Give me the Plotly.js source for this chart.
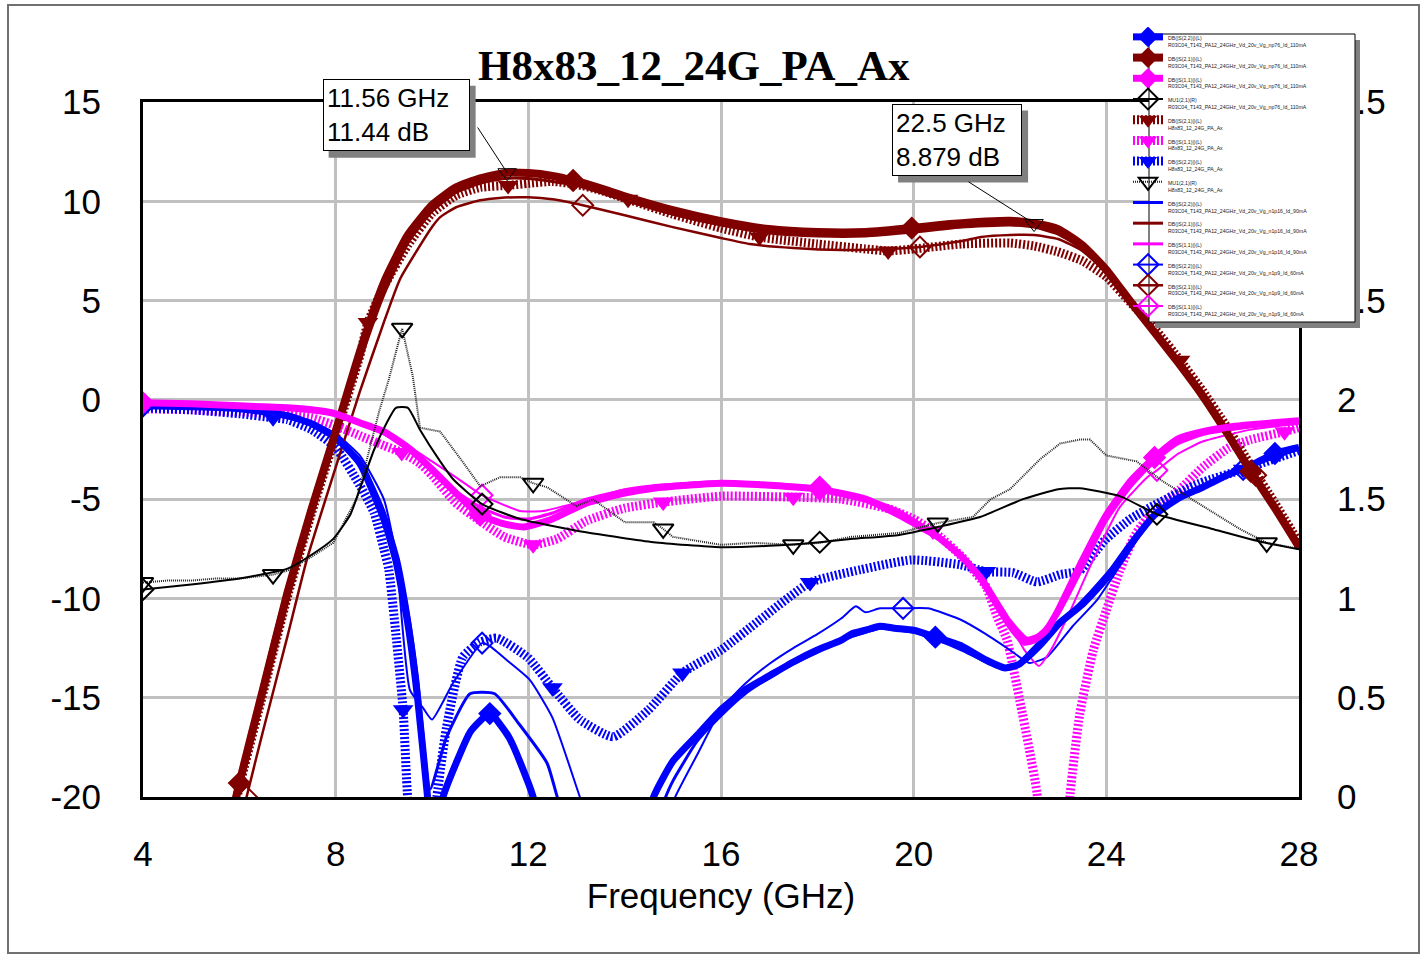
<!DOCTYPE html>
<html><head><meta charset="utf-8">
<script src="https://cdn.plot.ly/plotly-3.0.1.min.js"></script>
<style>html,body{margin:0;padding:0;background:#fff;}#chart{width:1421px;height:956px;}</style>
</head><body><div id="chart"></div>
<script>
// ---------- data (frequency in GHz, S-params in dB, MU1 unitless) ----------
// S22, np76 110mA
const f_s22_np76 = [4.0,5.0,6.0,7.0,7.5,8.0,8.5,9.0,9.25,9.5,9.7,9.9,10.05,10.23,10.5,10.8,11.2,11.6,12.0,12.1,12.4,13.3,14.3,14.6,15.0,15.5,16.0,16.5,17.0,17.5,18.0,18.5,18.7,19.0,19.3,19.6,20.0,20.45,21.0,21.5,21.9,22.2,22.5,23.0,23.5,24.0,24.5,25.0,25.5,26.0,26.5,27.0,27.5,28.0];
const s22_np76   = [-0.3,-0.35,-0.45,-0.8,-1.2,-1.9,-3.2,-6.0,-8.1,-11.3,-15.0,-19.8,-23.5,-20.0,-18.3,-16.7,-15.8,-17.0,-19.3,-20.0,-23.0,-28.0,-23.0,-20.0,-18.2,-16.9,-15.6,-14.6,-13.9,-13.2,-12.6,-12.1,-11.8,-11.6,-11.4,-11.5,-11.6,-11.95,-12.4,-13.1,-13.5,-13.3,-12.6,-11.3,-10.3,-9.0,-7.3,-5.8,-4.95,-4.4,-3.8,-3.3,-2.7,-2.4];
// S21, np76 110mA
const f_s21_np76 = [5.7,6.0,6.5,7.0,7.5,8.0,8.5,9.0,9.5,10.0,10.5,11.0,11.56,12.0,12.5,12.93,13.5,14.0,15.0,16.0,17.0,18.0,19.0,19.96,20.5,21.0,21.5,22.0,22.5,23.0,23.5,24.0,24.5,25.0,25.5,26.0,26.5,27.0,27.5,28.0];
const s21_np76   = [-22.5,-19.3,-14.5,-9.7,-5.5,-1.6,2.4,5.9,8.3,9.8,10.7,11.15,11.44,11.42,11.28,11.05,10.65,10.25,9.55,9.0,8.6,8.45,8.45,8.65,8.8,8.9,8.98,9.02,8.88,8.6,7.8,6.55,4.95,3.4,1.85,0.2,-1.65,-3.6,-5.45,-7.4];
// S11, np76 110mA
const f_s11_np76 = [4.0,5.0,6.0,7.0,7.5,8.0,8.5,9.0,9.5,10.0,10.5,11.0,11.5,11.9,12.5,13.2,14.0,14.6,15.3,16.0,17.0,18.05,19.0,19.7,20.0,20.5,21.0,21.4,21.8,22.07,22.3,22.5,22.75,23.0,23.5,24.0,24.5,25.0,25.5,26.0,26.6,27.0,28.0];
const s11_np76   = [-0.15,-0.2,-0.3,-0.4,-0.5,-0.7,-1.15,-1.6,-2.4,-3.5,-4.7,-5.8,-6.25,-6.4,-6.0,-5.2,-4.7,-4.45,-4.3,-4.2,-4.3,-4.5,-5.0,-5.8,-6.2,-6.9,-7.9,-9.0,-10.6,-11.6,-12.2,-12.1,-11.6,-10.6,-8.1,-5.8,-4.1,-2.9,-1.95,-1.6,-1.35,-1.25,-1.05];
// MU1, np76 110mA (right axis)
const f_mu_np76 = [4.0,5.0,6.0,7.0,7.5,7.95,8.3,8.5,8.8,9.05,9.25,9.5,9.75,10.17,10.44,11.04,11.83,13.2,14.6,15.98,17.0,18.05,18.74,19.7,20.5,21.38,22.27,23.0,23.45,24.28,25.05,26.2,27.25,28.0];
const mu_np76   = [1.045,1.07,1.10,1.15,1.22,1.30,1.42,1.55,1.75,1.88,1.96,1.96,1.85,1.69,1.60,1.475,1.40,1.333,1.283,1.258,1.265,1.283,1.30,1.32,1.36,1.41,1.50,1.55,1.555,1.515,1.424,1.35,1.283,1.247];
// S21, H8x83
const f_s21_h8 = [5.7,6.0,6.5,7.0,7.5,8.0,8.5,8.67,9.0,9.5,10.0,10.5,11.0,11.58,12.0,12.5,13.0,13.5,14.07,15.0,16.0,16.8,18.0,19.0,19.47,20.0,21.0,22.0,22.5,23.0,23.5,24.0,24.5,25.0,25.53,26.0,26.5,27.0,27.5,28.0];
const s21_h8   = [-22.8,-19.5,-14.7,-9.9,-5.7,-1.8,2.2,3.9,5.7,7.8,9.4,10.3,10.7,10.8,10.9,11.0,10.85,10.55,10.1,9.35,8.65,8.2,7.85,7.6,7.5,7.6,7.85,7.9,7.75,7.45,7.0,6.2,4.9,3.6,2.0,0.45,-1.35,-3.3,-5.2,-7.2];
// S11, H8x83
const f_s11_h8 = [4.0,5.0,6.0,6.7,7.5,8.0,8.5,9.0,9.37,9.75,10.0,10.5,11.0,11.5,12.1,12.6,13.2,14.0,14.8,16.0,17.5,18.5,19.5,20.0,20.4,21.0,21.5,21.73,21.94,22.2,22.4,22.56,22.9,23.25,23.45,23.73,24.0,24.28,24.6,25.0,25.53,26.0,26.55,27.0,27.7,28.0];
const s11_h8   = [-0.45,-0.5,-0.6,-0.7,-0.9,-1.3,-1.8,-2.3,-2.65,-3.2,-3.8,-5.2,-6.1,-6.9,-7.3,-7.0,-6.1,-5.45,-5.15,-4.85,-4.9,-5.0,-5.5,-6.0,-6.6,-7.9,-9.4,-10.9,-12.1,-15.1,-17.6,-19.8,-32.0,-19.8,-15.8,-12.6,-10.6,-8.6,-6.8,-5.5,-4.5,-3.4,-2.4,-2.0,-1.6,-1.4];
// S22, H8x83
const f_s22_h8 = [4.0,5.0,6.0,6.7,7.0,7.5,8.0,8.5,8.8,9.0,9.1,9.25,9.4,9.5,9.8,10.1,10.3,10.64,11.0,11.35,12.0,12.5,13.07,13.76,14.5,15.2,16.0,16.8,17.85,18.9,19.96,20.96,21.5,22.06,22.56,23.04,23.45,23.97,24.5,25.0,25.94,26.84,28.0];
const s22_h8   = [-0.4,-0.5,-0.7,-0.9,-1.0,-1.5,-2.4,-4.3,-5.7,-7.5,-8.5,-11.8,-15.6,-20.2,-26.0,-20.0,-16.5,-12.95,-12.2,-12.0,-13.0,-14.5,-16.1,-16.97,-15.6,-13.75,-12.6,-11.1,-9.2,-8.55,-8.06,-8.3,-8.65,-8.7,-9.17,-8.8,-8.6,-7.06,-6.0,-5.3,-4.2,-3.5,-2.55];
// MU1, H8x83 (right axis)
const f_mu_h8 = [4.0,4.5,5.0,5.5,6.0,6.7,7.0,7.5,7.95,8.45,8.9,9.1,9.38,9.6,9.75,10.17,10.6,11.0,11.41,11.83,12.1,12.39,13.0,13.34,14.0,14.6,14.8,15.0,16.0,16.66,17.5,18.05,18.7,19.7,20.5,21.23,21.6,22.0,22.62,23.04,23.45,23.66,24.0,24.63,25.17,26.09,26.77,27.33,28.0];
const mu_h8   = [1.08,1.09,1.09,1.10,1.10,1.12,1.14,1.21,1.28,1.51,1.94,2.10,2.36,2.12,1.86,1.84,1.70,1.565,1.61,1.61,1.58,1.56,1.465,1.50,1.384,1.384,1.35,1.31,1.27,1.28,1.27,1.28,1.31,1.33,1.38,1.41,1.50,1.55,1.70,1.78,1.80,1.80,1.72,1.69,1.59,1.45,1.35,1.28,1.25];
// S22, n1p16 90mA
const f_s22_n1p16 = [4.0,5.0,6.0,7.0,7.5,8.0,8.5,9.0,9.3,9.5,9.7,9.96,10.3,10.79,11.3,11.8,12.39,12.6,13.0,14.4,14.85,15.0,15.5,16.0,16.5,17.0,17.5,18.0,18.5,19.0,19.3,20.0,20.5,21.0,21.5,21.9,22.3,22.7,23.2,23.7,24.2,24.7,25.2,26.0,27.0,28.0];
const s22_n1p16   = [-0.3,-0.35,-0.45,-0.8,-1.2,-1.85,-3.0,-5.6,-8.0,-10.6,-14.0,-19.6,-17.0,-14.8,-14.8,-16.3,-18.3,-20.0,-23.0,-23.0,-20.0,-19.2,-17.2,-15.9,-14.8,-14.0,-13.3,-12.7,-12.1,-11.7,-11.5,-11.7,-12.1,-12.6,-13.2,-13.5,-13.2,-12.3,-10.9,-9.6,-8.2,-6.6,-5.4,-4.4,-3.3,-2.45];
// S21, n1p16 90mA
const f_s21_n1p16 = [5.7,6.0,6.5,7.0,7.5,8.0,8.5,9.0,9.5,10.0,10.5,11.0,11.5,12.0,12.5,13.0,14.0,15.0,16.0,17.0,18.0,19.0,20.0,21.0,22.0,22.5,23.0,23.5,24.0,24.5,25.0,25.5,26.0,26.5,27.0,27.5,28.0];
const s21_n1p16   = [-22.7,-19.4,-14.8,-10.1,-5.9,-2.0,1.9,5.3,7.9,9.5,10.45,10.9,11.15,11.15,11.0,10.8,10.05,9.35,8.8,8.4,8.25,8.25,8.45,8.7,8.8,8.7,8.35,7.6,6.4,4.85,3.3,1.75,0.1,-1.75,-3.7,-5.5,-7.45];
// S11, n1p16 90mA
const f_s11_n1p16 = [4.0,6.0,7.0,8.0,8.5,9.0,9.5,10.0,10.5,11.0,11.5,12.0,12.5,13.2,14.0,15.0,16.0,17.0,18.0,19.0,19.7,20.5,21.0,21.5,22.0,22.35,22.6,23.0,23.5,24.0,24.5,25.0,25.5,26.0,27.0,28.0];
const s11_n1p16   = [-0.2,-0.35,-0.45,-0.75,-1.2,-1.7,-2.5,-3.5,-4.6,-5.4,-5.9,-6.0,-5.7,-5.0,-4.55,-4.3,-4.2,-4.3,-4.5,-4.95,-5.7,-6.8,-7.8,-9.2,-11.1,-12.0,-11.8,-10.8,-8.5,-6.1,-4.4,-3.1,-2.2,-1.75,-1.35,-1.1];
// S22, n1p9 60mA
const f_s22_n1p9 = [4.0,5.0,6.0,7.0,7.5,8.0,8.5,9.0,9.25,9.54,9.81,10.0,10.44,11.04,11.2,11.6,12.03,12.5,13.07,13.5,14.6,15.05,15.5,16.0,16.5,17.0,17.5,18.0,18.5,18.8,19.0,19.3,19.78,20.3,21.0,21.5,22.0,22.4,22.77,23.3,23.8,24.3,25.05,26.0,26.84,28.0];
const s22_n1p9   = [-0.3,-0.35,-0.45,-0.75,-1.1,-1.7,-2.8,-5.0,-7.8,-14.6,-15.5,-16.1,-14.25,-12.25,-12.4,-13.2,-14.1,-16.0,-20.0,-23.0,-23.0,-20.0,-17.9,-15.6,-14.3,-13.3,-12.5,-11.8,-11.0,-10.4,-10.7,-10.5,-10.5,-10.5,-11.1,-11.8,-12.6,-13.25,-12.95,-11.4,-10.1,-8.3,-5.7,-4.4,-3.5,-2.5];
// S21, n1p9 60mA
const f_s21_n1p9 = [5.9,6.15,6.5,7.0,7.4,8.0,8.5,9.0,9.34,10.0,10.17,10.5,11.0,11.4,12.0,12.5,13.13,14.0,15.0,16.0,16.6,17.5,18.5,19.5,20.13,21.0,21.4,22.0,22.5,23.0,23.5,24.0,24.5,25.0,25.5,26.0,26.5,27.1,27.5,28.0];
const s21_n1p9   = [-22.6,-20.0,-16.6,-11.9,-8.06,-3.4,0.4,3.9,6.1,8.7,9.2,9.7,10.05,10.17,10.2,10.1,9.8,9.3,8.7,8.15,7.85,7.65,7.55,7.6,7.7,8.0,8.2,8.3,8.3,8.1,7.5,6.4,4.9,3.4,1.8,0.2,-1.6,-3.8,-5.3,-7.3];
// S11, n1p9 60mA
const f_s11_n1p9 = [4.0,6.0,7.0,8.0,8.5,9.0,9.5,10.0,10.5,11.04,11.5,11.83,12.3,13.2,14.0,14.6,16.0,17.0,18.05,19.0,19.7,20.5,21.0,21.5,22.0,22.3,22.6,22.85,23.2,23.7,24.28,24.85,25.05,25.5,26.0,27.0,28.0];
const s11_n1p9   = [-0.2,-0.3,-0.4,-0.7,-1.1,-1.6,-2.3,-3.1,-3.9,-4.8,-5.3,-5.6,-5.6,-5.05,-4.5,-4.3,-4.1,-4.2,-4.4,-4.9,-5.55,-6.8,-7.9,-9.4,-11.3,-12.6,-13.4,-12.6,-10.9,-8.2,-5.4,-3.9,-3.55,-2.7,-2.1,-1.5,-1.2];

// marker positions (GHz) along each trace
const mk_s22_np76 = [4.0,11.2,20.45,27.5];
const mk_s21_np76 = [6.0,12.93,19.96,27.0];
const mk_s11_np76 = [4.0,11.0,18.05,25.0];
const mk_mu_np76  = [4.0,11.04,18.05,25.05];
const mk_s21_h8   = [6.0,8.67,11.58,14.07,16.8,19.47,25.53];
const mk_s11_h8   = [6.7,9.37,12.1,14.8,17.5,20.4,27.7];
const mk_s22_h8   = [6.7,9.4,12.5,15.2,17.85,21.5,26.84];
const mk_mu_h8    = [4.0,6.7,9.38,12.1,14.8,17.5,20.5,27.33];
const mk_s22_n1p9 = [4.0,11.04,19.78,26.84];
const mk_s21_n1p9 = [6.15,13.13,20.13,27.1];
const mk_s11_n1p9 = [4.0,11.04,18.05,25.05];

// readout markers m1, m2
const mkr_freq = [11.56, 22.5];
const mkr_db   = [11.44, 8.879];
const mkr_text = ['11.56 GHz<br>11.44 dB', '22.5 GHz<br>8.879 dB'];

// axis tick labels
const yTickVals = [-20,-15,-10,-5,0,5,10,15];
const yTickText = ['-20','-15','-10','-5','0','5','10','15'];
const xTickVals = [4,8,12,16,20,24,28];
const y2TickVals = [0,0.5,1,1.5,2,2.5,3,3.5];
const y2TickText = ['0','0.5','1','1.5','2','2.5','3','3.5'];

const SRC_NP76  = 'R03C04_T143_PA12_24GHz_Vd_20v_Vg_np76_Id_110mA';
const SRC_H8    = 'H8x83_12_24G_PA_Ax';
const SRC_N1P16 = 'R03C04_T143_PA12_24GHz_Vd_20v_Vg_n1p16_Id_90mA';
const SRC_N1P9  = 'R03C04_T143_PA12_24GHz_Vd_20v_Vg_n1p9_Id_60mA';

// ---------- styling ----------
const BLUE = '#0000ff', RED = '#800000', MAG = '#ff00ff', BLK = '#000000';
const FONT = 'Liberation Sans, Arial, sans-serif';

function nearestIdx(xs, targets) {
  return targets.map(t => {
    let b = 0;
    xs.forEach((v, i) => { if (Math.abs(v - t) < Math.abs(xs[b] - t)) b = i; });
    return b;
  });
}

function series(o) {
  const t = {
    type: 'scatter', x: o.x, y: o.y, name: o.name, legendrank: o.rank, legendgroup: 'g' + o.rank,
    yaxis: o.yaxis || 'y', hoverinfo: 'skip',
    mode: o.symbol ? 'lines+markers' : 'lines',
    line: Object.assign({ color: o.color, shape: o.shape || 'spline', smoothing: 0.5 }, o.line)
  };
  if (o.symbol) {
    const open = o.symbol.indexOf('open') >= 0;
    t.marker = { symbol: o.symbol, size: o.msize || 18, color: o.color,
                 line: { width: open ? 2 : 0, color: o.color } };
    t.selectedpoints = nearestIdx(o.x, o.marks);
    t.selected = { marker: { opacity: 1 } };
    t.unselected = { marker: { opacity: 0 } };
  }
  return t;
}

const HATCH = { width: 9, dash: '2px,2px' };
const THICK = { width: 7 };
const MED = { width: 3 };
const THIN = { width: 2 };

const traces = [
  // hatched measured data (bottom)
  series({ x: f_s21_h8, y: s21_h8, name: 'DB(|S(2,1)|)(L)<br>' + SRC_H8, rank: 5, color: RED, line: HATCH, symbol: 'triangle-down', marks: mk_s21_h8 }),
  series({ x: f_s11_h8, y: s11_h8, name: 'DB(|S(1,1)|)(L)<br>' + SRC_H8, rank: 6, color: MAG, line: HATCH, symbol: 'triangle-down', marks: mk_s11_h8 }),
  series({ x: f_s22_h8, y: s22_h8, name: 'DB(|S(2,2)|)(L)<br>' + SRC_H8, rank: 7, color: BLUE, line: HATCH, symbol: 'triangle-down', marks: mk_s22_h8 }),
  // thin n1p9
  series({ x: f_s22_n1p9, y: s22_n1p9, name: 'DB(|S(2,2)|)(L)<br>' + SRC_N1P9, rank: 12, color: BLUE, line: THIN, symbol: 'diamond-open', msize: 16, marks: mk_s22_n1p9 }),
  series({ x: f_s21_n1p9, y: s21_n1p9, name: 'DB(|S(2,1)|)(L)<br>' + SRC_N1P9, rank: 13, color: RED, line: { width: 2.5 }, symbol: 'diamond-open', msize: 16, marks: mk_s21_n1p9 }),
  series({ x: f_s11_n1p9, y: s11_n1p9, name: 'DB(|S(1,1)|)(L)<br>' + SRC_N1P9, rank: 14, color: MAG, line: THIN, symbol: 'diamond-open', msize: 16, marks: mk_s11_n1p9 }),
  // medium n1p16
  series({ x: f_s22_n1p16, y: s22_n1p16, name: 'DB(|S(2,2)|)(L)<br>' + SRC_N1P16, rank: 9, color: BLUE, line: MED }),
  series({ x: f_s21_n1p16, y: s21_n1p16, name: 'DB(|S(2,1)|)(L)<br>' + SRC_N1P16, rank: 10, color: RED, line: MED }),
  series({ x: f_s11_n1p16, y: s11_n1p16, name: 'DB(|S(1,1)|)(L)<br>' + SRC_N1P16, rank: 11, color: MAG, line: MED }),
  // thick np76
  series({ x: f_s22_np76, y: s22_np76, name: 'DB(|S(2,2)|)(L)<br>' + SRC_NP76, rank: 1, color: BLUE, line: THICK, symbol: 'diamond', marks: mk_s22_np76 }),
  series({ x: f_s21_np76, y: s21_np76, name: 'DB(|S(2,1)|)(L)<br>' + SRC_NP76, rank: 2, color: RED, line: { width: 8 }, symbol: 'diamond', marks: mk_s21_np76 }),
  series({ x: f_s11_np76, y: s11_np76, name: 'DB(|S(1,1)|)(L)<br>' + SRC_NP76, rank: 3, color: MAG, line: THICK, symbol: 'diamond', marks: mk_s11_np76 }),
  // readout markers m1, m2
  { type: 'scatter', x: mkr_freq, y: mkr_db, mode: 'markers', showlegend: false, hoverinfo: 'skip',
    marker: { symbol: 'triangle-down-open', size: 16, color: BLK, line: { width: 1, color: BLK } } },
  // stability factor (right axis)
  series({ x: f_mu_h8, y: mu_h8, name: 'MU1(2,1)(R)<br>' + SRC_H8, rank: 8, color: BLK, yaxis: 'y2', shape: 'linear', line: { width: 2, dash: '1px,1px', color: '#222' }, symbol: 'triangle-down-open', marks: mk_mu_h8 }),
  series({ x: f_mu_np76, y: mu_np76, name: 'MU1(2,1)(R)<br>' + SRC_NP76, rank: 4, color: BLK, yaxis: 'y2', line: { width: 2 }, symbol: 'diamond-open', msize: 16, marks: mk_mu_np76 })
];

// ---------- layout helpers (pixel -> paper) ----------
const PL = 143, PR = 1299, PT = 102, PB = 797;
const px2x = p => (p - PL) / (PR - PL);
const py2y = p => (PB - p) / (PB - PT);

// readout boxes: centre offset from marker (px) and inner size (px)
const boxOffsets = [[-111, -58], [-77, -84]];
const boxSizes = [[139, 64], [122, 64]];
const lineTails = [[-30, -46], [-66, -42]];
const BOXPAD = 3;

const annFont = { family: FONT, size: 26, color: '#000' };
const annotations = [];
const shapes = [
  // outer frame of picture
  { type: 'rect', xref: 'paper', yref: 'paper', x0: px2x(8), x1: px2x(1419), y0: py2y(953), y1: py2y(5),
    line: { color: '#707070', width: 2 }, fillcolor: 'rgba(0,0,0,0)', layer: 'below' },
  // legend shadow and box
  { type: 'rect', xref: 'paper', yref: 'paper', x0: px2x(1155), x1: px2x(1360), y0: py2y(328), y1: py2y(40),
    line: { width: 0 }, fillcolor: '#808080', layer: 'above' },
  { type: 'rect', xref: 'paper', yref: 'paper', x0: px2x(1149), x1: px2x(1355), y0: py2y(322), y1: py2y(34),
    line: { color: '#000', width: 1 }, fillcolor: '#ffffff', layer: 'above' }
];

mkr_text.forEach((txt, i) => {
  // pixel position of the readout marker through the axis scales
  const mx = PL + (mkr_freq[i] - 4) / 24 * (PR - PL);
  const my = PT + (15 - mkr_db[i]) / 35 * (PB - PT);
  const cx = mx + boxOffsets[i][0], cy = my + boxOffsets[i][1];
  const hw = boxSizes[i][0] / 2 + BOXPAD + 1, hh = boxSizes[i][1] / 2 + BOXPAD + 1;
  // drop shadow of the readout box
  shapes.push({ type: 'rect', xref: 'paper', yref: 'paper', layer: 'above',
    x0: px2x(cx - hw + 6), x1: px2x(cx + hw + 6), y0: py2y(cy + hh + 7), y1: py2y(cy - hh + 7),
    line: { width: 0 }, fillcolor: '#808080' });
  // leader line
  annotations.push({ x: mkr_freq[i], y: mkr_db[i], xref: 'x', yref: 'y', text: ' ', showarrow: true,
    arrowhead: 0, arrowwidth: 1, arrowcolor: '#000', ax: lineTails[i][0], ay: lineTails[i][1],
    font: { size: 1 }, borderpad: 0 });
  // box
  annotations.push({ x: mkr_freq[i], y: mkr_db[i], xref: 'x', yref: 'y', text: txt, showarrow: true,
    arrowcolor: 'rgba(0,0,0,0)', ax: boxOffsets[i][0], ay: boxOffsets[i][1],
    width: boxSizes[i][0], height: boxSizes[i][1],
    font: annFont, align: 'left', valign: 'middle', bgcolor: '#ffffff', bordercolor: '#000', borderwidth: 1, borderpad: BOXPAD });
});
annotations.push({ xref: 'paper', yref: 'paper', x: px2x(694), y: py2y(65), xanchor: 'center', yanchor: 'middle',
  showarrow: false, text: 'H8x83_12_24G_PA_Ax',
  font: { family: 'Liberation Serif, Times New Roman, serif', size: 43, color: '#000', weight: 'bold' } });

const tickFont = { family: FONT, size: 35, color: '#000' };
const layout = {
  width: 1421, height: 956,
  margin: { l: 143, r: 122, t: 102, b: 159, autoexpand: false },
  paper_bgcolor: '#ffffff', plot_bgcolor: '#ffffff',
  showlegend: true,
  xaxis: { range: [4, 28], tickmode: 'array', tickvals: xTickVals, showgrid: true, gridcolor: '#c0c0c0', gridwidth: 3,
    showline: true, linecolor: '#000', linewidth: 3, mirror: true, zeroline: false, ticks: '',
    tickfont: tickFont, ticklabelstandoff: 24, automargin: false,
    title: { text: 'Frequency (GHz)', font: tickFont, standoff: 12 } },
  yaxis: { range: [-20, 15], tickmode: 'array', tickvals: yTickVals, ticktext: yTickText, showgrid: true,
    gridcolor: '#c0c0c0', gridwidth: 3, showline: true, linecolor: '#000', linewidth: 3, mirror: true,
    zeroline: false, ticks: '', tickfont: tickFont, ticklabelstandoff: 32, automargin: false },
  yaxis2: { range: [0, 3.5], overlaying: 'y', side: 'right', tickmode: 'array', tickvals: y2TickVals, ticktext: y2TickText,
    showgrid: false, zeroline: false, showline: false, ticks: '', tickfont: tickFont, ticklabelstandoff: 37, automargin: false },
  legend: { x: px2x(1128), xanchor: 'left', y: py2y(27), yanchor: 'top', bgcolor: 'rgba(0,0,0,0)', borderwidth: 0,
    font: { family: FONT, size: 5.2, color: '#222' }, valign: 'top', tracegroupgap: 1.7, traceorder: 'grouped' },
  shapes: shapes,
  annotations: annotations
};

Plotly.newPlot('chart', traces, layout, { staticPlot: true, displayModeBar: false });
</script>
</body></html>
